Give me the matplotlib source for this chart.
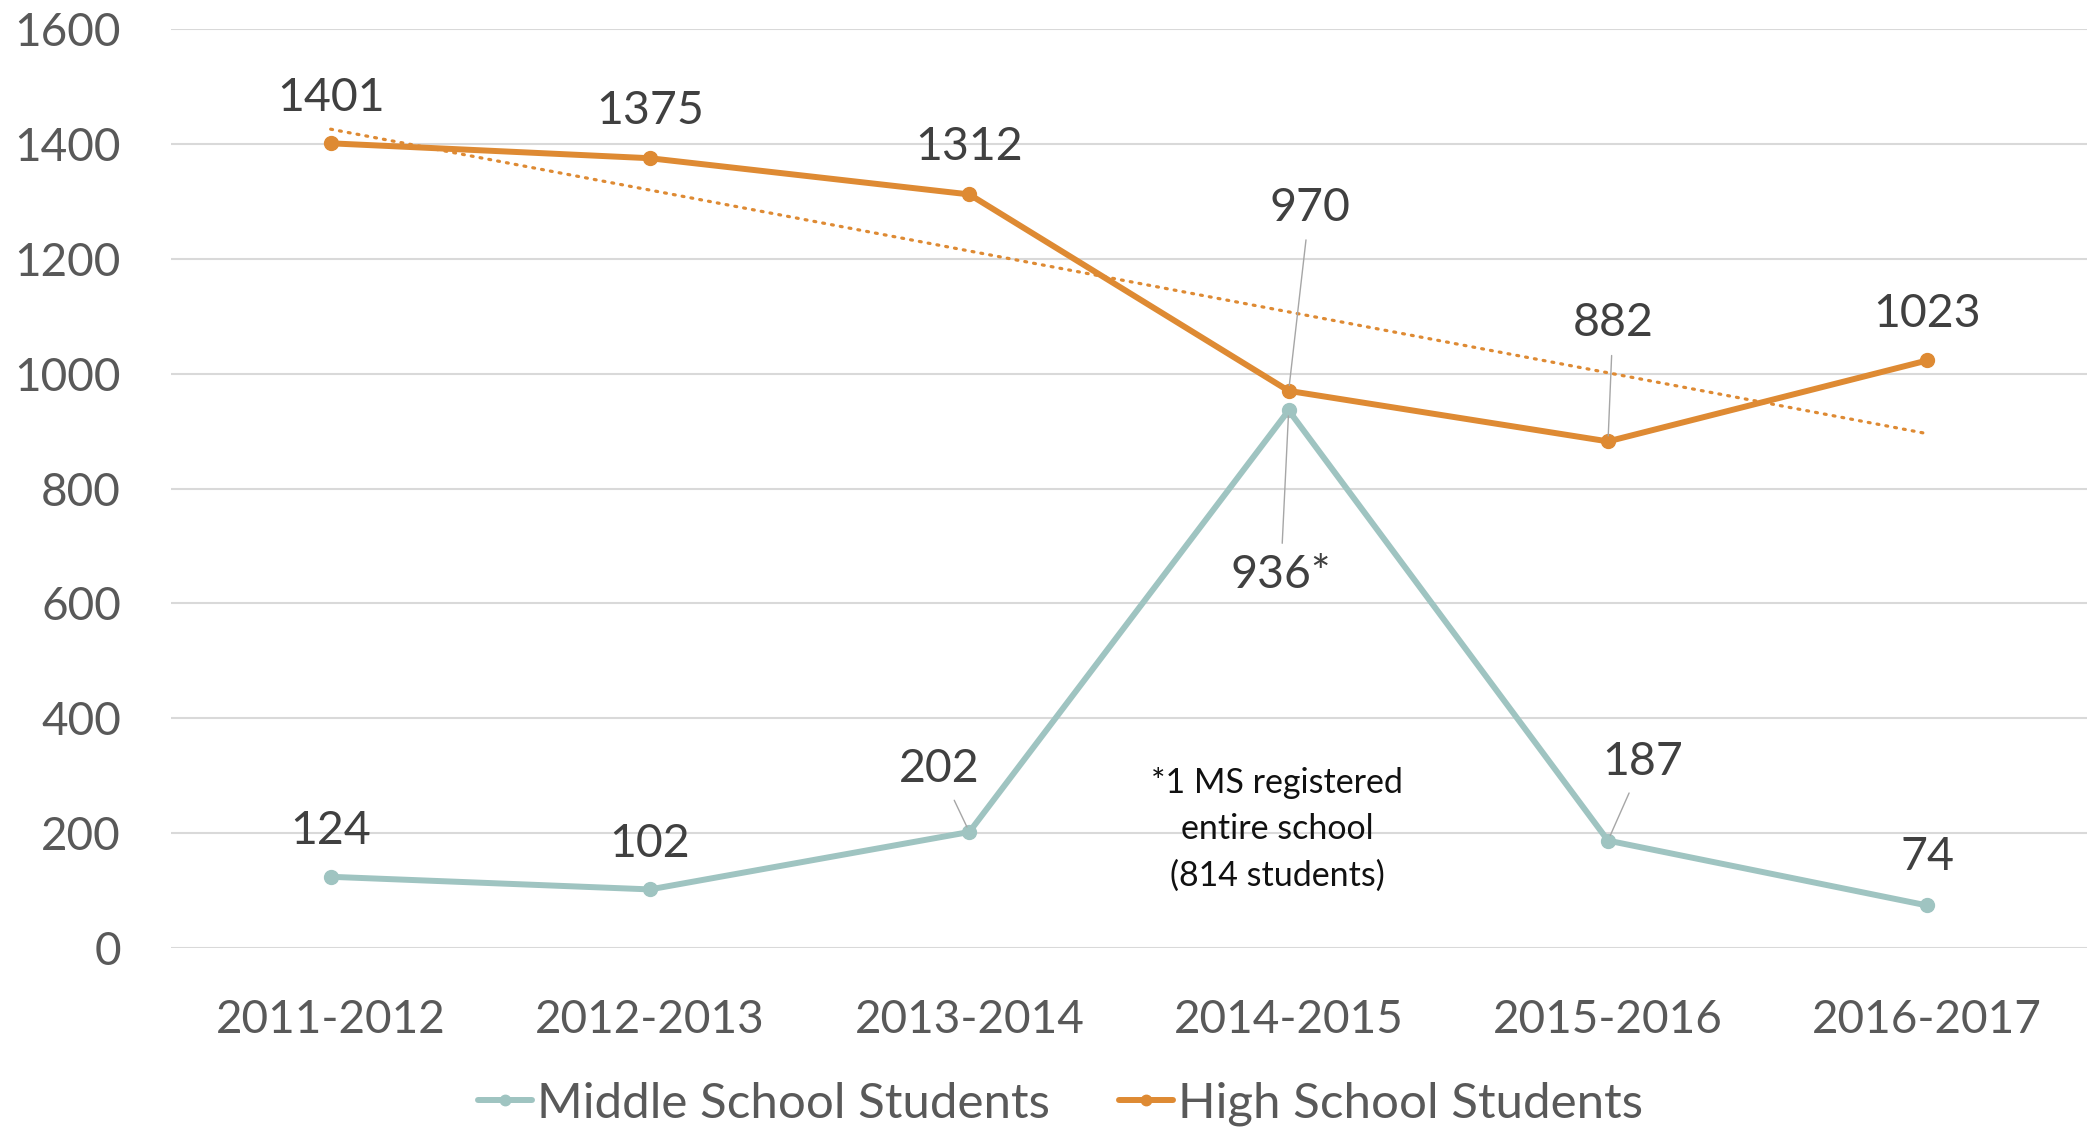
import matplotlib
matplotlib.use("Agg")
import matplotlib.pyplot as plt
import numpy as np

plt.rcParams['font.family'] = ['Lato', 'DejaVu Sans']

years = ["2011-2012", "2012-2013", "2013-2014", "2014-2015", "2015-2016", "2016-2017"]
middle_school = [124, 102, 202, 936, 187, 74]
high_school = [1401, 1375, 1312, 970, 882, 1023]
ms_labels = ["124", "102", "202", "936*", "187", "74"]
hs_labels = ["1401", "1375", "1312", "970", "882", "1023"]
yticks = [0, 200, 400, 600, 800, 1000, 1200, 1400, 1600]
note = "*1 MS registered\nentire school\n(814 students)"

# label offsets in pixels (dx, dy up), and whether a leader line is drawn
hs_offsets = [(0, 45), (0, 47), (0, 47), (21, 183), (5, 118), (0, 46)]
hs_leader = [False, False, False, True, True, False]
ms_offsets = [(0, 46), (0, 45), (-30, 63), (-8, -165), (35, 79), (0, 48)]
ms_leader = [False, False, True, True, True, False]

ORANGE = '#DE8A33'
TEAL = '#9FC4C1'
GRID = '#D9D9D9'
TICK = '#595959'
LABEL = '#404040'

fig = plt.figure(figsize=(21, 11.31), dpi=100)
ax = fig.add_axes([171/2100, 1 - 948/1131, (2087-171)/2100, (948-29)/1131])

x = np.arange(len(years))
ms_line, = ax.plot(x, middle_school, color=TEAL, lw=4.3, marker='o', ms=10,
                   solid_capstyle='round', label="Middle School Students", zorder=3)
hs_line, = ax.plot(x, high_school, color=ORANGE, lw=4.3, marker='o', ms=10,
                   solid_capstyle='round', label="High School Students", zorder=4)

# linear trendline for high school
coef = np.polyfit(x, high_school, 1)
ax.plot(x, np.polyval(coef, x), color=ORANGE, lw=2.3, ls=(0, (0.6, 2.2)),
        dash_capstyle='round', zorder=2)

ax.set_xlim(-0.5, len(years) - 0.5)
ax.set_ylim(0, 1600)
ax.set_yticks(yticks)
ax.set_yticklabels([str(t) for t in yticks])
ax.set_xticks(x)
ax.set_xticklabels(years)
ax.tick_params(axis='both', length=0, labelsize=33, labelcolor=TICK)
ax.tick_params(axis='y', pad=36)
ax.tick_params(axis='x', pad=37)
for s in ax.spines.values():
    s.set_visible(False)
ax.grid(axis='y', color=GRID, lw=1.5)
ax.set_axisbelow(True)

k = 72 / 100  # px -> points
def put(vals, labels, offsets, leaders):
    for i, (v, lab, off, lead) in enumerate(zip(vals, labels, offsets, leaders)):
        ap = dict(arrowstyle='-', color='#A6A6A6', lw=1.0, shrinkA=6, shrinkB=4) if lead else None
        ax.annotate(lab, xy=(i, v), xytext=(off[0]*k, off[1]*k), textcoords='offset points',
                    ha='center', va='center', fontsize=33.5, color=LABEL,
                    arrowprops=ap, zorder=5)

put(high_school, hs_labels, hs_offsets, hs_leader)
put(middle_school, ms_labels, ms_offsets, ms_leader)

fig.text(1277/2100, 1 - 829/1131, note, ha='center', va='center', fontsize=24.5,
         color='#111111', linespacing=1.55)

fig.legend(handles=[ms_line, hs_line], loc='center', bbox_to_anchor=(0.505, 1 - 1104/1131),
           ncol=2, frameon=False, fontsize=35.5, labelcolor=TICK, handlelength=1.1,
           handletextpad=0.1, columnspacing=1.4, markerscale=0.75)

fig.savefig("out.png", dpi=100)
